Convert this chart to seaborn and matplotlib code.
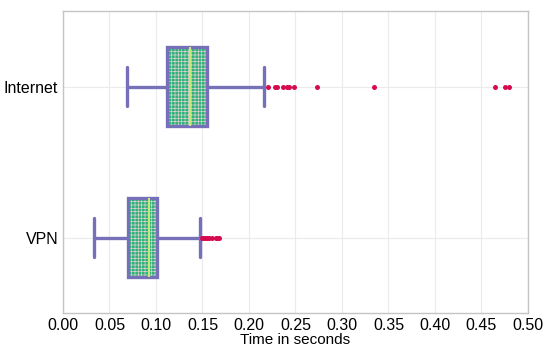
import matplotlib
matplotlib.use("Agg")
import matplotlib.pyplot as plt
from matplotlib.patches import PathPatch
import seaborn as sns
import pandas as pd

# ==========================================
# 1. DATA (response times in seconds)
# ==========================================
networks = ["Internet", "VPN"]

internet_times = [
    0.069, 0.078, 0.084, 0.089, 0.093, 0.096, 0.099, 0.101, 0.103, 0.105,
    0.107, 0.108, 0.110, 0.111, 0.112, 0.112, 0.114, 0.116, 0.118, 0.120,
    0.122, 0.124, 0.126, 0.128, 0.129, 0.131, 0.132, 0.134, 0.135, 0.136,
    0.138, 0.139, 0.140, 0.141, 0.143, 0.144, 0.145, 0.146, 0.147, 0.148,
    0.150, 0.151, 0.152, 0.153, 0.155, 0.155, 0.180, 0.216,
    # slow requests
    0.2205, 0.228, 0.230, 0.237, 0.241, 0.243, 0.248, 0.273, 0.334,
    0.4645, 0.475, 0.4795,
]

vpn_times = [
    0.0333, 0.040, 0.046, 0.051, 0.055, 0.058, 0.061, 0.063, 0.065, 0.067,
    0.068, 0.069, 0.070, 0.072, 0.074, 0.076, 0.078, 0.080, 0.082, 0.084,
    0.086, 0.088, 0.090, 0.091, 0.0925, 0.093, 0.094, 0.095, 0.096, 0.097,
    0.098, 0.0985, 0.099, 0.0995, 0.100, 0.1005, 0.101, 0.110, 0.125, 0.147,
    # slow requests
    0.149, 0.151, 0.153, 0.155, 0.157, 0.160, 0.164, 0.166, 0.168,
]

x_ticks = [0.00, 0.05, 0.10, 0.15, 0.20, 0.25, 0.30, 0.35, 0.40, 0.45, 0.50]

df = pd.DataFrame({
    "network": ["Internet"] * len(internet_times) + ["VPN"] * len(vpn_times),
    "time": internet_times + vpn_times,
})

# ==========================================
# 2. STYLE
# ==========================================
box_fill = "#2db37a"
hatch_col = "#dccfcf"
edge_col = "#7570b8"
median_col = "#c4e87c"
outlier_col = "#d70a4f"

sns.set_theme(style="white")
plt.rcParams["font.family"] = ["Liberation Sans", "DejaVu Sans"]
plt.rcParams["hatch.linewidth"] = 0.5

fig, ax = plt.subplots(figsize=(5.5, 3.48), dpi=100)
fig.subplots_adjust(left=0.1145, right=0.96, top=0.968, bottom=0.1006)

# ==========================================
# 3. PLOT
# ==========================================
sns.boxplot(
    data=df, x="time", y="network", order=networks, ax=ax,
    orient="h", width=0.52, color=box_fill, linecolor=edge_col,
    linewidth=2.4, saturation=1,
    medianprops=dict(color=median_col, linewidth=1.5),
    flierprops=dict(marker="o", markerfacecolor=outlier_col,
                    markeredgecolor="none", markersize=3.6),
)

# hatch the boxes in a light colour and redraw the purple outline on top
for p in list(ax.patches):
    p.set_hatch("+++++")
    p.set_edgecolor(hatch_col)
    p.set_linewidth(0)
    ax.add_patch(PathPatch(p.get_path(), transform=p.get_transform(),
                           fill=False, edgecolor=edge_col, linewidth=2.4,
                           zorder=p.get_zorder() + 0.05))
for line in ax.lines:
    if line.get_color() == median_col:
        line.set_zorder(5)

ax.set_xlim(0, 0.5)
ax.set_ylim(1.5, -0.5)
ax.set_xticks(x_ticks)
ax.set_xticklabels([f"{t:.2f}" for t in x_ticks])
ax.set_xlabel("Time in seconds", fontsize=11, labelpad=0, color="black")
ax.set_ylabel("")

ax.grid(True, color="#ebebeb", linewidth=0.8)
ax.set_axisbelow(True)
ax.tick_params(axis="both", labelsize=11.5, colors="black", length=2,
               color="#c8c8c8", width=0.6, pad=1.5)
for s in ax.spines.values():
    s.set_color("#c4c4c4")
    s.set_linewidth(1.0)

plt.savefig("out.png", dpi=100)
